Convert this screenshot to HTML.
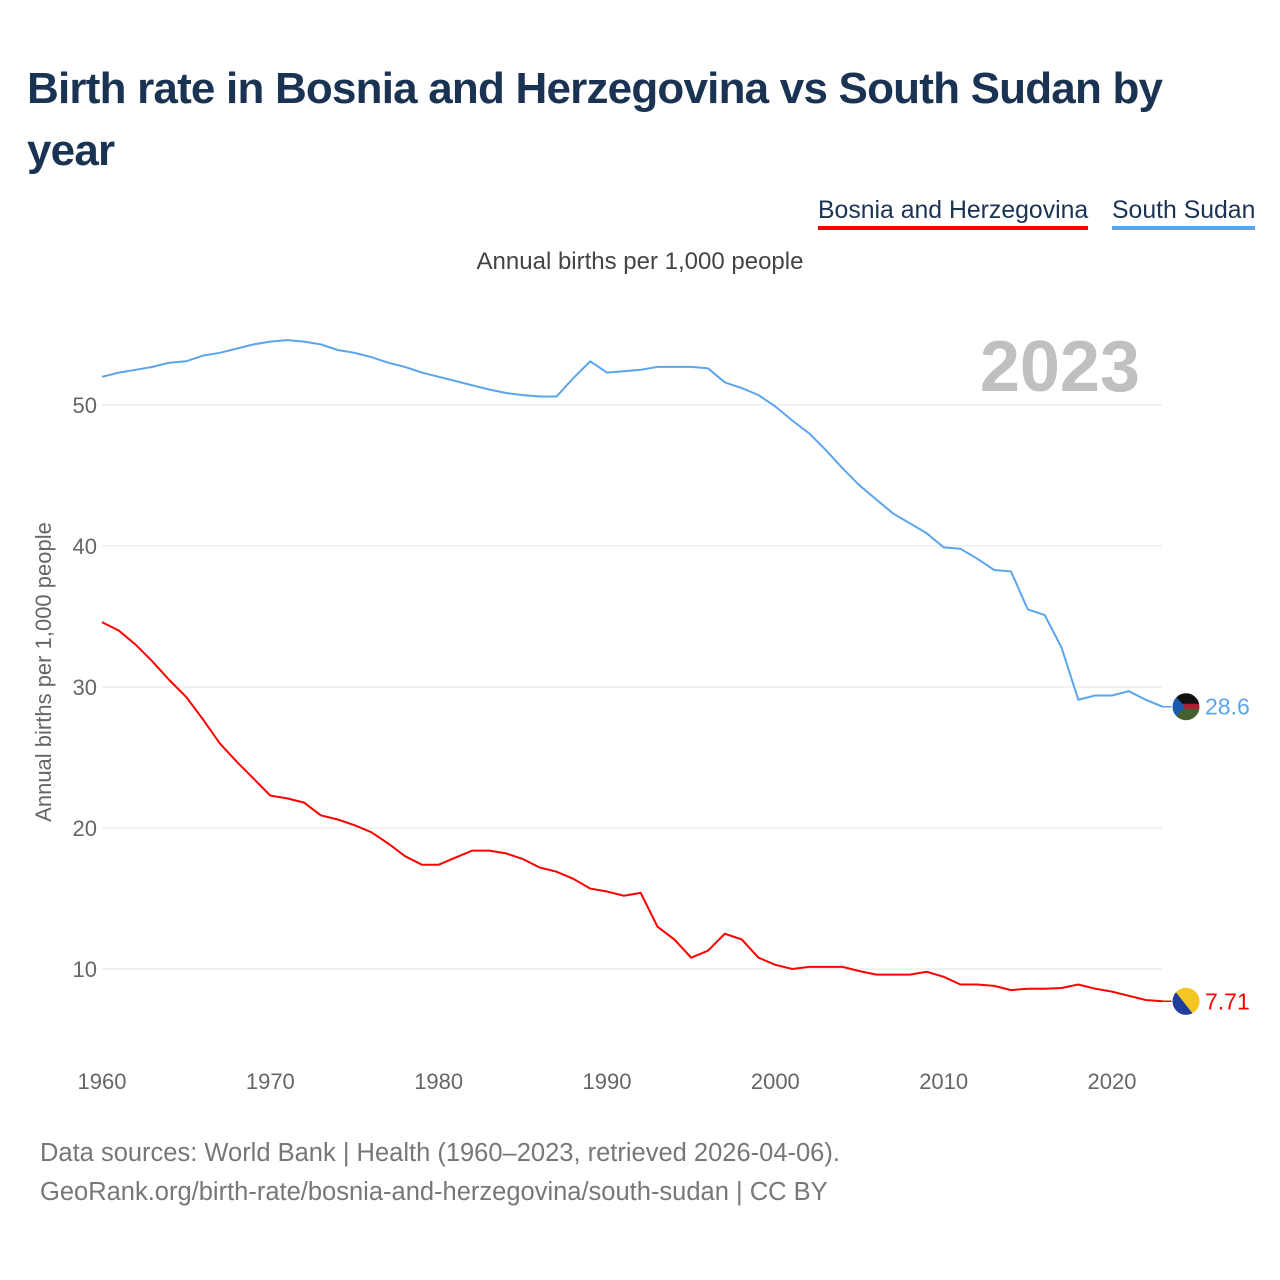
<!DOCTYPE html>
<html><head><meta charset="utf-8"><style>
body{margin:0;width:1280px;height:1280px;background:#fff;font-family:"Liberation Sans",sans-serif;overflow:hidden;position:relative}
.t{position:absolute}
</style></head><body>
<div class="t" style="left:27px;top:58px;width:1220px;font-size:44px;font-weight:bold;color:#1b3353;line-height:62px;letter-spacing:-0.8px">Birth rate in Bosnia and Herzegovina vs South Sudan by year</div>
<div class="t" style="left:818px;top:196px;font-size:24.8px;color:#1b3353;border-bottom:4px solid #f00;line-height:30px">Bosnia and Herzegovina</div>
<div class="t" style="left:1112px;top:196px;font-size:24.8px;color:#1b3353;border-bottom:4px solid #5aa5ec;line-height:30px">South Sudan</div>
<div class="t" style="left:0;width:1280px;text-align:center;top:248px;font-size:24px;color:#444">Annual births per 1,000 people</div>
<div class="t" style="left:40px;top:1134px;font-size:25.5px;color:#777;line-height:39px">Data sources: World Bank | Health (1960–2023, retrieved 2026-04-06).<br>GeoRank.org/birth-rate/bosnia-and-herzegovina/south-sudan | CC BY</div>
<svg id="chart" width="1280" height="1280" style="position:absolute;left:0;top:0"></svg>
<script>
const years=[];for(let y=1960;y<=2023;y++)years.push(y);
const southSudan=[52.0,52.3,52.5,52.7,53.0,53.1,53.5,53.7,54.0,54.3,54.5,54.6,54.5,54.3,53.9,53.7,53.4,53.0,52.7,52.3,52.0,51.7,51.4,51.1,50.85,50.7,50.6,50.6,51.9,53.1,52.3,52.4,52.5,52.7,52.7,52.7,52.6,51.6,51.2,50.7,49.9,48.9,48.0,46.8,45.5,44.3,43.3,42.3,41.6,40.9,39.9,39.8,39.1,38.3,38.2,35.5,35.1,32.8,29.1,29.4,29.4,29.7,29.1,28.6];
const bosnia=[34.6,34.0,33.0,31.8,30.5,29.3,27.7,26.0,24.7,23.5,22.3,22.1,21.8,20.9,20.6,20.2,19.7,18.9,18.0,17.4,17.4,17.9,18.4,18.4,18.2,17.8,17.2,16.9,16.4,15.7,15.5,15.2,15.4,13.0,12.1,10.8,11.3,12.5,12.1,10.8,10.3,10.0,10.15,10.15,10.15,9.85,9.6,9.6,9.6,9.8,9.45,8.9,8.9,8.8,8.5,8.6,8.6,8.65,8.9,8.6,8.4,8.1,7.8,7.71];
const yTicks=[10,20,30,40,50];
const xTicks=[1960,1970,1980,1990,2000,2010,2020];
const X=y=>102+(y-1960)*1010/60;
const Y=v=>969-(v-10)*14.1;
const svg=document.getElementById('chart');const NS='http://www.w3.org/2000/svg';
function mk(t,a,txt,parent){const e=document.createElementNS(NS,t);for(const k in a)e.setAttribute(k,a[k]);if(txt!=null)e.textContent=txt;(parent||svg).appendChild(e);return e;}
const defs=mk('defs',{});
for(const v of yTicks){
 const l=mk('line',{x1:102,x2:1162,y1:Y(v),y2:Y(v),stroke:'#e6e6e6','stroke-width':1});
 
 
 const t=mk('text',{x:97,y:Y(v)+8,'text-anchor':'end','font-size':22,fill:'#666','font-family':'Liberation Sans'},v);
 
 
}
for(const y of xTicks){
 const t=mk('text',{x:X(y),y:1089,'text-anchor':'middle','font-size':22,fill:'#666','font-family':'Liberation Sans'},y);
 
 
}
const yt=mk('text',{transform:'translate(51,672) rotate(-90)','text-anchor':'middle','font-size':22,fill:'#666','font-family':'Liberation Sans'},'Annual births per 1,000 people');


const yr=mk('text',{x:1140,y:391,'text-anchor':'end','font-size':72,'font-weight':'bold',fill:'#c0c0c0','font-family':'Liberation Sans'},'2023');


function series(d,c,name){
 const p=mk('path',{d:d.map((v,i)=>(i?'L':'M')+X(years[i]).toFixed(1)+','+Y(v).toFixed(1)).join(''),fill:'none',stroke:c,'stroke-width':2});
 
 
 const last=d[d.length-1],cx=1186,cy=Y(last);
 mk('line',{x1:X(2023),x2:cx,y1:cy,y2:cy,stroke:c,'stroke-width':1.5});
 const cp=mk('clipPath',{id:'clip-'+name},null,defs);
 mk('circle',{cx:cx,cy:cy,r:14},null,cp);
 const g=mk('g',{'clip-path':'url(#clip-'+name+')'});
 
 
 mk('rect',{x:cx-14,y:cy-14,width:28,height:28,fill:name==='bosnia'?'#f3c623':'#44602e'},null,g);
 if(name==='bosnia'){mk('path',{d:`M${cx-14},${cy-14}L${cx+8},${cy+14}L${cx-14},${cy+14}Z`,fill:'#1f3d9c'},null,g);}
 else{mk('rect',{x:cx-14,y:cy-14,width:28,height:12,fill:'#111'},null,g);mk('rect',{x:cx-14,y:cy-3,width:28,height:5,fill:'#b11e32'},null,g);mk('path',{d:`M${cx-14},${cy-14}L${cx-1},${cy}L${cx-14},${cy+14}Z`,fill:'#1a5bb0'},null,g);}
 mk('circle',{cx:cx,cy:cy,r:14,fill:'none',stroke:'#fff','stroke-width':1});
 const t=mk('text',{x:1205,y:cy+8,'font-size':23,fill:c,'font-family':'Liberation Sans'},name==='bosnia'?'7.71':'28.6');
 
 
}
series(southSudan,'#5aa5ec','south-sudan');
series(bosnia,'#ff0000','bosnia');
</script>
</body></html>
